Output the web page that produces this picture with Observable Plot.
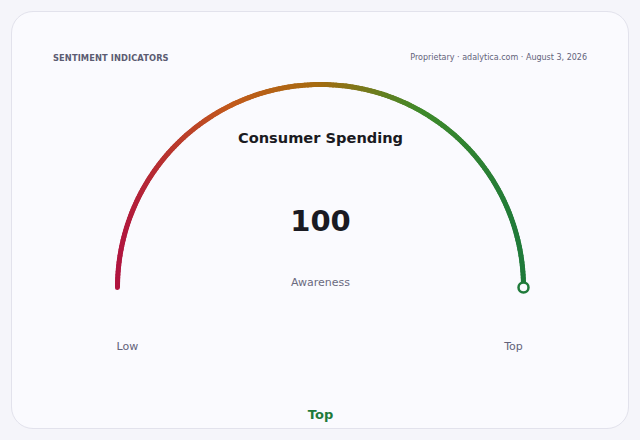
<!DOCTYPE html>
<html>
<head>
<meta charset="utf-8">
<script src="https://cdn.jsdelivr.net/npm/d3@7"></script>
<script src="https://cdn.jsdelivr.net/npm/@observablehq/plot@0.6"></script>
<style>
  html, body { margin: 0; padding: 0; width: 640px; height: 440px; overflow: hidden; background: #f5f5fa; font-family: "DejaVu Sans", sans-serif; }
  .card { position: absolute; left: 11px; top: 11px; width: 616px; height: 416px; border: 1px solid #e2e2ec; border-radius: 22px; background: #fafafe; }
  .kicker { position: absolute; left: 53px; top: 53px; font-size: 8.3px; font-weight: bold; color: #5c5c72; letter-spacing: 0.1px; }
  .meta { position: absolute; right: 53px; top: 53px; font-size: 8px; color: #62627a; }
  #chart { position: absolute; left: 0; top: 0; }
</style>
</head>
<body>
<div class="card"></div>
<div class="kicker">SENTIMENT INDICATORS</div>
<div class="meta">Proprietary · adalytica.com · August 3, 2026</div>
<div id="chart"></div>
<script>
// Data
const title = "Consumer Spending";
const metric = "Awareness";
const value = 100;
const domainMin = 0;
const domainMax = 100;
const endLabels = ["Low", "Top"];
const statusLabel = "Top";
const gradientStops = [0, 0.28, 0.5, 0.75, 1];
const gradientColors = ["#b0143f", "#c25a1c", "#a56b10", "#3f8a2a", "#1f7a3a"];

const colorAt = d3.scaleLinear().domain(gradientStops).range(gradientColors).interpolate(d3.interpolateRgb);

const frac = (value - domainMin) / (domainMax - domainMin);
const N = 200;
const segs = [];
for (let i = 0; i < N; i++) {
  const t1 = (i / N) * frac, t2 = ((i + 1) / N) * frac;
  const a1 = Math.PI * (1 - t1), a2 = Math.PI * (1 - t2);
  const x1 = Math.cos(a1), y1 = Math.sin(a1), x2 = Math.cos(a2), y2 = Math.sin(a2);
  segs.push({x1, y1, x2, y2, c: colorAt(((x1 + x2) / 2 + 1) / 2)});
}
const endA = Math.PI * (1 - frac);
const endPt = [{x: Math.cos(endA), y: Math.sin(endA), c: colorAt((Math.cos(endA) + 1) / 2)}];

const plot = Plot.plot({
  width: 640, height: 440,
  margin: 0,
  x: {domain: [-1, 1], range: [117, 523], axis: null},
  y: {domain: [0, 1], range: [287, 84], axis: null},
  color: {type: "identity"},
  style: {background: "transparent", fontFamily: "DejaVu Sans, sans-serif"},
  marks: [
    Plot.link(segs, {x1: "x1", y1: "y1", x2: "x2", y2: "y2", stroke: "c", strokeWidth: 5, strokeLinecap: "round"}),
    Plot.dot(endPt, {x: "x", y: "y", r: 5, stroke: "c", strokeWidth: 2.5, fill: "#fafafe"}),
    Plot.text([title], {x: 0, y: 0.734, text: d => d, fontSize: 14.6, fontWeight: "bold", fill: "#1a1a22"}),
    Plot.text([value], {x: 0, y: 0.325, text: d => String(d), fontSize: 29, fontWeight: "bold", fill: "#1a1a22"}),
    Plot.text([metric], {x: 0, y: 0.027, text: d => d, fontSize: 11, fill: "#6a6a7e"}),
    Plot.text([endLabels[0]], {x: -0.951, y: -0.29, text: d => d, fontSize: 11, fill: "#62627a"}),
    Plot.text([endLabels[1]], {x: 0.951, y: -0.29, text: d => d, fontSize: 11, fill: "#62627a"}),
    Plot.text([statusLabel], {x: 0, y: -0.628, text: d => d, fontSize: 13, fontWeight: "bold", fill: colorAt(1)})
  ]
});
document.getElementById("chart").appendChild(plot);
</script>
</body>
</html>
